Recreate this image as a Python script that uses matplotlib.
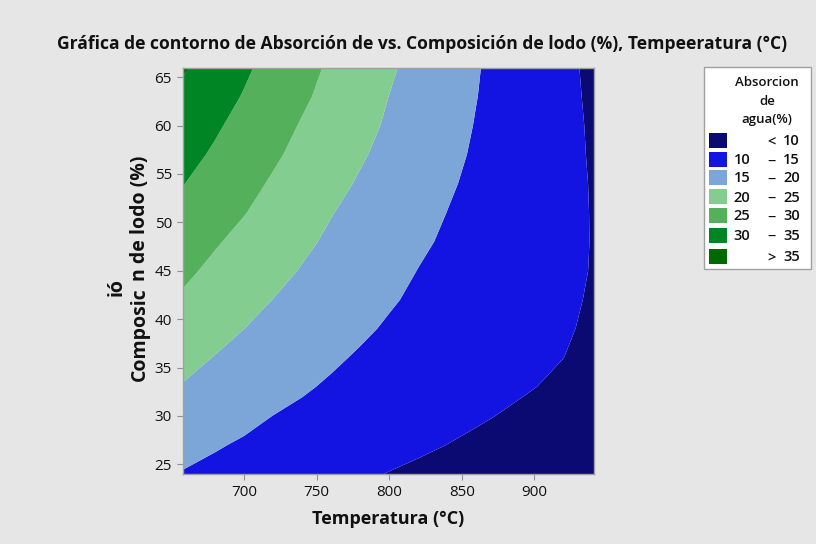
import numpy as np
import matplotlib
matplotlib.use("Agg")
import matplotlib.pyplot as plt
from matplotlib.patches import Rectangle

plt.rcParams['font.family'] = ['Open Sans', 'DejaVu Sans']

# Grid of the response surface
temperatura = [658, 680, 700, 720, 740, 760, 780, 800, 820, 840, 860, 880, 900, 920, 941]
composicion = [24, 27, 30, 33, 36, 39, 42, 45, 48, 51, 54, 57, 60, 63, 66]
absorcion = [
    [14.76, 14.03, 13.33, 12.63, 11.94, 11.24, 10.55, 9.87, 9.27, 8.67, 8.07, 7.47, 6.87, 6.27, 5.64],    # 24
    [16.39, 15.33, 14.57, 13.91, 13.25, 12.60, 11.94, 11.28, 10.62, 9.97, 9.37, 8.77, 8.17, 7.57, 6.94],  # 27
    [18.06, 16.96, 15.96, 14.97, 14.32, 13.67, 13.02, 12.37, 11.72, 11.07, 10.41, 9.78, 9.18, 8.58, 7.95],  # 30
    [19.75, 18.60, 17.53, 16.45, 15.38, 14.58, 13.93, 13.28, 12.64, 11.99, 11.34, 10.69, 10.05, 9.44, 8.80],  # 33
    [21.29, 19.84, 18.76, 17.67, 16.59, 15.50, 14.64, 13.98, 13.32, 12.66, 12.00, 11.34, 10.67, 10.01, 9.32],  # 36
    [22.84, 21.36, 20.01, 18.89, 17.77, 16.65, 15.53, 14.62, 13.90, 13.17, 12.45, 11.73, 11.01, 10.29, 9.55],  # 39
    [24.45, 22.89, 21.42, 19.95, 18.80, 17.64, 16.49, 15.33, 14.44, 13.65, 12.86, 12.08, 11.29, 10.50, 9.71],  # 42
    [25.86, 24.09, 22.63, 21.17, 19.76, 18.54, 17.33, 16.11, 14.93, 14.08, 13.24, 12.39, 11.55, 10.71, 9.83],  # 45
    [27.29, 25.40, 23.82, 22.29, 20.75, 19.36, 18.10, 16.84, 15.59, 14.51, 13.58, 12.66, 11.73, 10.81, 9.86],  # 48
    [28.76, 26.91, 25.17, 23.49, 21.82, 20.15, 18.83, 17.54, 16.24, 14.96, 13.94, 12.92, 11.90, 10.88, 9.83],  # 51
    [30.13, 28.12, 26.31, 24.53, 22.86, 21.18, 19.59, 18.21, 16.82, 15.44, 14.24, 13.13, 12.02, 10.91, 9.78],  # 54
    [31.41, 29.44, 27.53, 25.63, 23.85, 22.14, 20.42, 18.88, 17.41, 15.93, 14.55, 13.34, 12.12, 10.91, 9.67],  # 57
    [32.69, 30.57, 28.61, 26.63, 24.69, 22.93, 21.17, 19.48, 17.91, 16.35, 14.82, 13.51, 12.21, 10.90, 9.58],  # 60
    [33.97, 31.75, 29.74, 27.70, 25.66, 23.73, 21.84, 19.96, 18.33, 16.70, 15.07, 13.65, 12.25, 10.84, 9.43],  # 63
    [35.45, 32.96, 30.69, 28.54, 26.43, 24.38, 22.46, 20.53, 18.73, 16.98, 15.24, 13.72, 12.24, 10.76, 9.30],  # 66
]
niveles = [0, 10, 15, 20, 25, 30, 35, 100]
etiquetas = [("", "<", "10"), ("10", "\u2212", "15"), ("15", "\u2212", "20"), ("20", "\u2212", "25"),
             ("25", "\u2212", "30"), ("30", "\u2212", "35"), ("", ">", "35")]
colores = ["#0b0a72", "#1414e2", "#7ca6d8", "#82cd8f", "#54b05b", "#008524", "#006a00"]
xticks = [700, 750, 800, 850, 900]
yticks = [25, 30, 35, 40, 45, 50, 55, 60, 65]

W, H = 816, 544
def fx(px):
    return px / W
def fy(py):
    return 1 - py / H

bg = "#e6e6e6"
ink = "#111111"
fig = plt.figure(figsize=(8.16, 5.44), dpi=100, facecolor=bg)
ax = fig.add_axes([fx(183), fy(474), (594-183)/W, (474-67.5)/H])

T = np.array(temperatura)
C = np.array(composicion)
Z = np.array(absorcion)
ax.contourf(T, C, Z, levels=niveles, colors=colores, antialiased=True)
ax.set_xlim(T[0], T[-1])
ax.set_ylim(C[0], C[-1])
ax.set_xticks(xticks)
ax.set_yticks(yticks)
ax.tick_params(direction='out', length=4, color='#909090', labelsize=11, labelcolor=ink, pad=4)
for s in ax.spines.values():
    s.set_color('#a0a0a0')
    s.set_linewidth(1.0)

fig.text(fx(388), fy(519), "Temperatura (\u00b0C)", ha='center', va='center',
         fontsize=13, fontweight='bold', color=ink)
fig.text(fx(140), fy(334), "Composic", ha='center', va='center',
         rotation=90, fontsize=14, fontweight='bold', color=ink)
fig.text(fx(140), fy(218), "n de lodo (%)", ha='center', va='center',
         rotation=90, fontsize=14, fontweight='bold', color=ink)
fig.text(fx(117), fy(287), "i\u00f3", ha='center', va='center',
         rotation=90, fontsize=14, fontweight='bold', color=ink)

fig.text(fx(422), fy(44),
         "Gr\u00e1fica de contorno de Absorci\u00f3n de vs. Composici\u00f3n de lodo (%), Tempeeratura (\u00b0C)",
         ha='center', va='center', fontsize=12.6, fontweight='bold', color=ink)

# Legend box
fig.patches.append(Rectangle((fx(704), fy(269)), (810.7-704)/W, (269-66.7)/H,
                             transform=fig.transFigure, facecolor='white',
                             edgecolor='#a0a0a0', linewidth=1.0))
for txt, yy in [("Absorcion", 82), ("de", 101.5), ("agua(%)", 120)]:
    fig.text(fx(767), fy(yy), txt, ha='center', va='center', fontsize=9.5,
             fontweight='semibold', color=ink)
row_y = [140.5, 159.2, 177.5, 196.7, 215.7, 235, 256]
for (a, m, b), col, yy in zip(etiquetas, colores, row_y):
    fig.patches.append(Rectangle((fx(709), fy(yy + 7.5)), 18/W, 15/H,
                                 transform=fig.transFigure, facecolor=col, edgecolor='none'))
    base = fy(yy + 4.8)
    if a:
        fig.text(fx(742), base, a, ha='center', va='baseline', fontsize=10.5,
                 fontweight='semibold', color=ink)
    fig.text(fx(772), base - 1.5/H, m, ha='center', va='baseline', fontsize=10.5,
             fontweight='semibold', color=ink)
    fig.text(fx(791.5), base, b, ha='center', va='baseline', fontsize=10.5,
             fontweight='semibold', color=ink)

fig.savefig("out.png", dpi=100, facecolor=bg)
